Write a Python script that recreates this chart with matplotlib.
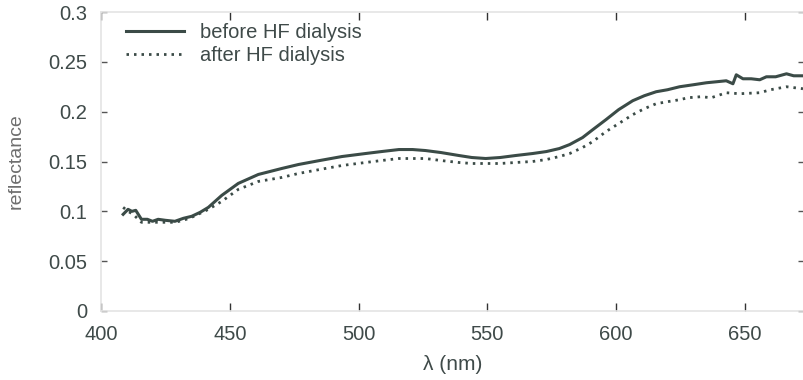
import matplotlib
matplotlib.use("Agg")
import matplotlib.pyplot as plt

plt.rcParams['font.family'] = ['Liberation Sans', 'DejaVu Sans']

# reflectance spectra
wl_before = [408.6, 410.5, 412.0, 413.5, 415.7, 418.0, 420.0, 422.2, 425.0, 428.7, 432.0, 435.2,
             438.5, 441.7, 446.9, 453.3, 461.1, 470.2, 476.7, 485.0, 493.6, 502.7, 509.0,
             515.7, 521.0, 526.0, 532.0, 539.0, 544.0, 549.4, 555.0, 561.0, 567.6, 573.0,
             578.0, 582.0, 587.0, 591.0, 596.1, 601.0, 606.5, 611.0, 615.6, 620.0, 624.7,
             630.0, 635.1, 639.0, 642.8, 645.4, 646.7, 649.3, 652.5, 655.8, 658.4, 662.0,
             666.2, 669.0, 672.6]
refl_before = [0.097, 0.102, 0.100, 0.101, 0.092, 0.092, 0.090, 0.092, 0.091, 0.090, 0.093, 0.095,
               0.099, 0.104, 0.116, 0.128, 0.137, 0.143, 0.147, 0.151, 0.155, 0.158, 0.160,
               0.162, 0.162, 0.161, 0.159, 0.156, 0.154, 0.153, 0.154, 0.156, 0.158, 0.160,
               0.163, 0.167, 0.174, 0.182, 0.192, 0.202, 0.211, 0.216, 0.220, 0.222, 0.225,
               0.227, 0.229, 0.230, 0.231, 0.228, 0.237, 0.233, 0.233, 0.232, 0.235, 0.235,
               0.238, 0.236, 0.236]

wl_after = [408.6, 410.5, 412.5, 415.7, 419.0, 422.2, 425.5, 428.7, 432.0, 435.2, 438.5, 441.7,
            446.9, 453.3, 461.1, 470.2, 476.7, 485.0, 493.6, 502.7, 509.0, 515.7, 521.0, 526.0,
            532.0, 539.0, 544.0, 549.4, 555.0, 561.0, 567.6, 573.0, 578.0, 582.0, 587.0,
            591.0, 596.1, 601.0, 606.5, 611.0, 615.6, 620.0, 624.7, 628.0, 633.0, 637.0,
            642.8, 648.0, 655.8, 660.0, 666.2, 672.6]
refl_after = [0.104, 0.100, 0.097, 0.089, 0.089, 0.089, 0.089, 0.089, 0.091, 0.094, 0.098, 0.102,
              0.110, 0.122, 0.130, 0.134, 0.138, 0.142, 0.146, 0.149, 0.151, 0.153, 0.153, 0.153,
              0.151, 0.149, 0.148, 0.148, 0.148, 0.149, 0.150, 0.152, 0.155, 0.158, 0.164,
              0.170, 0.180, 0.188, 0.197, 0.203, 0.208, 0.210, 0.212, 0.214, 0.215, 0.214,
              0.219, 0.218, 0.219, 0.222, 0.225, 0.223]

xticks = [400, 450, 500, 550, 600, 650]
yticks = [0, 0.05, 0.1, 0.15, 0.2, 0.25, 0.3]
ytick_labels = ['0', '0.05', '0.1', '0.15', '0.2', '0.25', '0.3']

ink = '#3b4b47'
txt = '#3f4a49'

fig = plt.figure(figsize=(8.04, 3.8), dpi=100)
ax = fig.add_axes([101 / 804, 1 - 311 / 380, 703 / 804, 299 / 380])

ax.plot(wl_before, refl_before, color=ink, lw=2.2, label='before HF dialysis')
ax.plot(wl_after, refl_after, color=ink, lw=2.0, linestyle=(0, (0.9, 1.8)),
        label='after HF dialysis')

ax.set_xlim(400, 673)
ax.set_ylim(0, 0.3)
ax.set_xticks(xticks)
ax.set_yticks(yticks)
ax.set_yticklabels(ytick_labels)

for s in ax.spines.values():
    s.set_color('#e4e4e4')
    s.set_linewidth(1.2)

ax.tick_params(axis='both', direction='in', colors=txt, labelsize=14.5,
               top=True, right=True, length=5.5, width=1, pad=9)
ax.tick_params(axis='x', colors='#333333', labelcolor=txt, pad=10)
ax.tick_params(axis='y', colors='#555555', labelcolor=txt, length=4.5, pad=10)

ax.set_xlabel('λ (nm)', fontsize=15, color=txt, labelpad=8)
ax.set_ylabel('reflectance', fontsize=14, color='#6e6e6e', labelpad=17)

ax.legend(loc='upper left', bbox_to_anchor=(126 / 804, 1 - 23 / 380),
          bbox_transform=fig.transFigure, frameon=False, fontsize=14.5,
          handlelength=2.9, handletextpad=0.75, labelspacing=0.2,
          borderpad=0, borderaxespad=0, labelcolor=txt)

fig.savefig('out.png', dpi=100)
